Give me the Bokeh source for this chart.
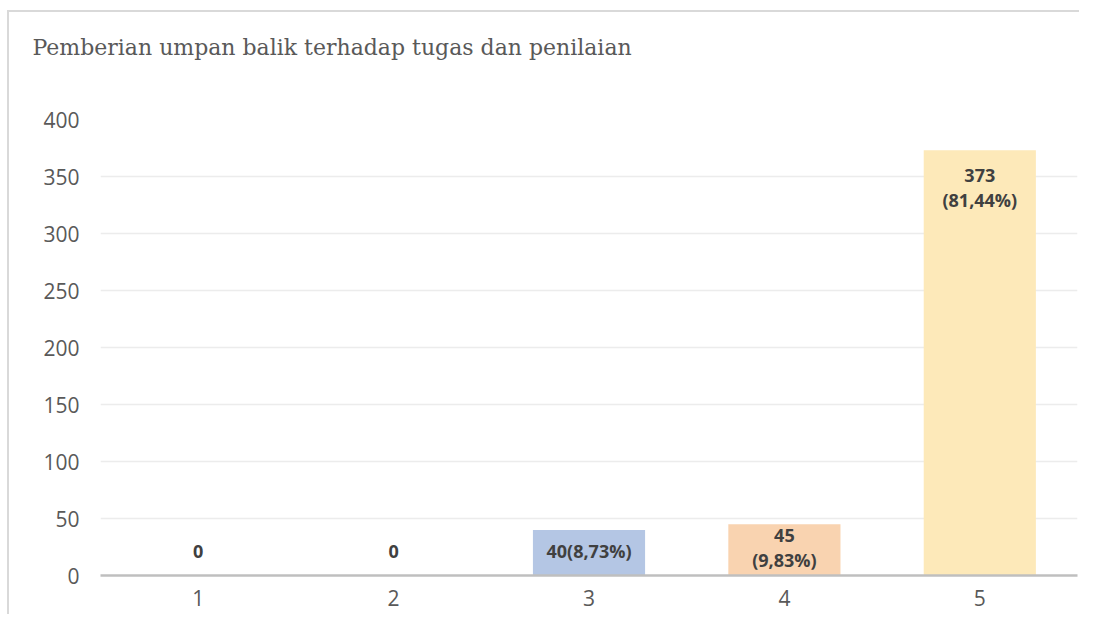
from bokeh.plotting import figure
from bokeh.models import ColumnDataSource, FixedTicker, Range1d, Title
from bokeh.embed import file_html
from bokeh.resources import INLINE
from bokeh.core.properties import value

# ---- data ----
categories = [1, 2, 3, 4, 5]
counts = [0, 0, 40, 45, 373]
bar_labels = ["0", "0", "40(8,73%)", "45\n(9,83%)", "373\n(81,44%)"]
bar_colors = ["#b4c6e4", "#b4c6e4", "#b4c6e4", "#f9d3b0", "#fde9b9"]
y_ticks = [0, 50, 100, 150, 200, 250, 300, 350, 400]
title_text = "Pemberian umpan balik terhadap tugas dan penilaian"

W, H = 1079, 614

border_css = ("linear-gradient(#d9d9d9,#d9d9d9) 7px 10px / 2px 100% no-repeat, "
              "linear-gradient(#d9d9d9,#d9d9d9) 7px 10px / 100% 2px no-repeat, white")

p = figure(width=W, height=H, output_backend="svg", toolbar_location=None,
           x_range=Range1d(0.5, 5.5), y_range=Range1d(0, 400),
           min_border_left=100, min_border_right=2, min_border_top=119,
           min_border_bottom=39, styles={"background": border_css})

# blank trailing lines lift the title towards the top edge
p.title = Title(text=title_text + "\n \n ", align="left", offset=-68,
                text_font="DejaVu Serif", text_font_size="22px",
                text_font_style="normal", text_color="#595959", standoff=20)

p.outline_line_color = None
p.background_fill_color = "white"
p.border_fill_color = None

# bars
src = ColumnDataSource(dict(x=categories, top=counts, color=bar_colors))
p.vbar(x="x", top="top", bottom=0, width=0.574, fill_color="color",
       line_color=None, source=src)

# label placement derived from values
ly, lbase, loff = [], [], []
for c in counts:
    if c >= 100:
        ly.append(c); lbase.append("top"); loff.append(13)
    elif c > 0:
        ly.append(c / 2); lbase.append("middle"); loff.append(-2)
    else:
        ly.append(c); lbase.append("middle"); loff.append(-24)
lsrc = ColumnDataSource(dict(x=categories, y=ly, text=bar_labels,
                             base=lbase, off=loff))
p.text(x="x", y="y", text="text", source=lsrc, text_align="center",
       text_baseline="base", y_offset="off",
       text_font=value("Open Sans"), text_font_style="bold",
       text_font_size="18px", text_color="#404040", text_line_height=1.05)

# axes
p.xaxis.ticker = FixedTicker(ticks=categories)
p.yaxis.ticker = FixedTicker(ticks=y_ticks)
for ax in (p.xaxis, p.yaxis):
    ax.major_tick_line_color = None
    ax.minor_tick_line_color = None
    ax.major_tick_out = 0
    ax.major_tick_in = 0
    ax.major_label_text_font = "Open Sans"
    ax.major_label_text_font_size = "21px"
    ax.major_label_text_color = "#595959"
p.yaxis.axis_line_color = None
p.yaxis.major_label_standoff = 21
p.xaxis.axis_line_color = "#bfbfbf"
p.xaxis.axis_line_width = 2.5
p.xaxis.major_label_standoff = 14

p.xgrid.grid_line_color = None
p.ygrid.grid_line_color = "#ececec"
p.ygrid.grid_line_width = 1.5

open("out.html", "w").write(file_html(p, INLINE))
